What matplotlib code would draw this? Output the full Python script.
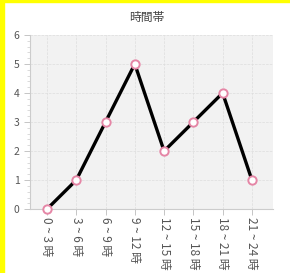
import matplotlib.pyplot as plt
from matplotlib.patches import Rectangle
from matplotlib.ticker import MultipleLocator

plt.rcParams['font.family'] = ['Noto Sans CJK JP', 'DejaVu Sans']

# data
categories = ["0 ~ 3 時", "3 ~ 6 時", "6 ~ 9 時", "9 ~ 12 時",
              "12 ~ 15 時", "15 ~ 18 時", "18 ~ 21 時", "21 ~ 24 時"]
counts = [0, 1, 3, 5, 2, 3, 4, 1]
title = "時間帯"

fig = plt.figure(figsize=(2.9, 2.73), dpi=100)
ax = fig.add_axes([0.1034, 0.234, 0.838, 0.638])

x = range(len(categories))
ax.plot(x, counts, color='black', lw=2.4, marker='o', ms=6,
        mfc='white', mec='#e586a6', mew=1.4, zorder=3, clip_on=False)

ax.set_facecolor('#f2f2f2')
ax.set_xlim(-0.58, 7.72)
ax.set_ylim(0, 6)
ax.set_xticks(list(x))
ax.set_xticklabels(categories, rotation=270, fontsize=8.5, color='#555555')
ax.yaxis.set_major_locator(MultipleLocator(1))
ax.yaxis.set_minor_locator(MultipleLocator(0.2))
ax.tick_params(axis='y', labelsize=7.5, colors='#555555', length=4, width=0.6, color='#bbbbbb')
ax.tick_params(axis='y', which='minor', length=2.5, width=0.5, color='#cccccc')
ax.tick_params(axis='x', length=4, width=0.6, color='#bbbbbb', pad=2)
ax.grid(True, ls='--', lw=0.5, color='#dddddd')
for s in ['top', 'right']:
    ax.spines[s].set_visible(False)
for s in ['left', 'bottom']:
    ax.spines[s].set_color('#cccccc')
    ax.spines[s].set_linewidth(0.8)

fig.text(0.507, 0.935, title, ha='center', va='center', fontsize=8.5, color='#444444')

# yellow frame (left / top)
fig.patches.append(Rectangle((0, 0), 4 / 290, 1, transform=fig.transFigure, color='#ffff00', zorder=10))
fig.patches.append(Rectangle((0, 1 - 2 / 273), 1, 2 / 273, transform=fig.transFigure, color='#ffff00', zorder=10))

fig.savefig('out.png', dpi=100)
